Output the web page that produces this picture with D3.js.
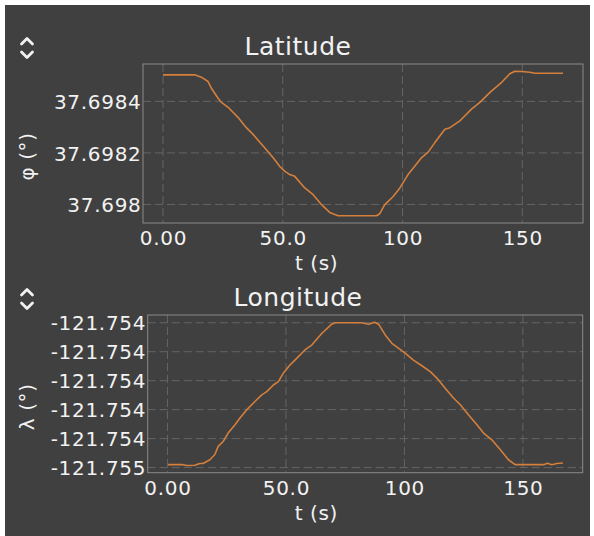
<!DOCTYPE html>
<html>
<head>
<meta charset="utf-8">
<script src="https://cdn.jsdelivr.net/npm/d3@7"></script>
<style>
  html, body { margin: 0; padding: 0; background: #ffffff; }
  svg { display: block; }
  text { font-family: "DejaVu Sans", sans-serif; fill: #f2f2f2; }
</style>
</head>
<body>
<svg id="chart" width="594" height="536"></svg>
<script>
// ---------- data ----------
const latTime = [0, 13.2, 16, 18.8, 20.2, 23, 24.4, 27.2, 31.3, 34.8, 37.6, 41.8, 46, 48.7, 50.8, 52.9, 55, 59.2, 62.7, 66.2, 69.6, 73.1, 89.1, 90.5, 92.6, 96.1, 98.9, 102.3, 105.1, 107.9, 110.7, 113.5, 117.7, 119.8, 123.9, 128.8, 132.3, 136.5, 141.4, 144.8, 146.9, 149.7, 153.2, 155.3, 167];
const latValues = [37.698503, 37.698503, 37.698494, 37.698477, 37.698451, 37.698412, 37.698396, 37.698377, 37.698338, 37.698298, 37.698272, 37.698227, 37.698181, 37.698148, 37.698129, 37.698116, 37.698109, 37.698064, 37.698038, 37.697999, 37.697969, 37.697956, 37.697956, 37.697964, 37.697999, 37.698031, 37.698064, 37.698116, 37.698148, 37.698181, 37.698203, 37.698240, 37.698292, 37.698298, 37.698324, 37.698370, 37.698396, 37.698435, 37.698474, 37.698507, 37.698517, 37.698516, 37.698513, 37.698509, 37.698509];

const lonTime = [0.25, 6.6, 8, 11.5, 13.7, 15, 17.9, 20, 21.4, 23.5, 25.6, 28.5, 30.6, 33.4, 36.9, 39.8, 41.9, 44.7, 46.8, 48.9, 51.7, 53.8, 58, 60.9, 65.1, 69.3, 70.7, 82, 84.9, 87.4, 89.1, 91.9, 94.7, 98.2, 100.3, 103.8, 108, 110.9, 113.7, 117.2, 120.7, 123.6, 127, 130.6, 133.4, 136.9, 140.4, 143.9, 146.7, 158.7, 160.4, 162.2, 164.3, 166.9];
const lonValues = [-121.754590, -121.754590, -121.754593, -121.754592, -121.754586, -121.754586, -121.754573, -121.754555, -121.754527, -121.754510, -121.754481, -121.754452, -121.754429, -121.754401, -121.754372, -121.754349, -121.754338, -121.754315, -121.754303, -121.754274, -121.754246, -121.754229, -121.754194, -121.754177, -121.754137, -121.754105, -121.754100, -121.754100, -121.754105, -121.754098, -121.754105, -121.754142, -121.754171, -121.754192, -121.754205, -121.754229, -121.754252, -121.754269, -121.754291, -121.754326, -121.754360, -121.754383, -121.754418, -121.754452, -121.754481, -121.754504, -121.754538, -121.754573, -121.754590, -121.754590, -121.754585, -121.754590, -121.754586, -121.754584];

const xTickValues = [0, 50, 100, 150];
const xTickLabels = ["0.00", "50.0", "100", "150"];

const latTickValues = [37.6980, 37.6982, 37.6984];
const latTickLabels = ["37.698", "37.6982", "37.6984"];

const lonTickValues = [-121.7546, -121.7545, -121.7544, -121.7543, -121.7542, -121.7541];
const lonTickLabels = ["-121.755", "-121.754", "-121.754", "-121.754", "-121.754", "-121.754"];

const titles = ["Latitude", "Longitude"];
const yLabels = ["\u03c6 (\u00b0)", "\u03bb (\u00b0)"];
const xLabel = "t (s)";

// ---------- layout ----------
const svg = d3.select("#chart");
svg.append("rect").attr("x", 5).attr("y", 5).attr("width", 585).attr("height", 531).attr("fill", "#404040");

const panels = [
  { title: titles[0], yLabel: yLabels[0], t: latTime, v: latValues, ticks: latTickValues, labels: latTickLabels,
    left: 143, right: 583, top: 64, bottom: 223 },
  { title: titles[1], yLabel: yLabels[1], t: lonTime, v: lonValues, ticks: lonTickValues, labels: lonTickLabels,
    left: 147.7, right: 582.7, top: 315, bottom: 472.7 }
];

function padded(arr) {
  const [a, b] = d3.extent(arr);
  const p = (b - a) * 0.05;
  return [a - p, b + p];
}

const tickFont = { size: "20px", ls: "0.7px" };

panels.forEach(p => {
  const g = svg.append("g");
  const x = d3.scaleLinear().domain(padded(p.t.concat([0]))).range([p.left, p.right]);
  const y = d3.scaleLinear().domain(padded(p.v)).range([p.bottom, p.top]);

  // grid
  g.append("g").selectAll("line").data(p.ticks).join("line")
    .attr("x1", p.left).attr("x2", p.right)
    .attr("y1", d => y(d)).attr("y2", d => y(d))
    .attr("stroke", "#646464").attr("stroke-width", 1).attr("stroke-dasharray", "8,4");
  g.append("g").selectAll("line").data(xTickValues).join("line")
    .attr("y1", p.top).attr("y2", p.bottom)
    .attr("x1", d => x(d)).attr("x2", d => x(d))
    .attr("stroke", "#646464").attr("stroke-width", 1).attr("stroke-dasharray", "8,4");

  // frame
  g.append("rect").attr("x", p.left).attr("y", p.top)
    .attr("width", p.right - p.left).attr("height", p.bottom - p.top)
    .attr("fill", "none").attr("stroke", "#8a8a8a").attr("stroke-width", 1);

  // axes via d3 axis generators
  const xAxis = d3.axisBottom(x).tickValues(xTickValues)
    .tickFormat((d, i) => xTickLabels[i]).tickSize(0).tickPadding(0);
  const xg = g.append("g").attr("transform", `translate(0,${p.bottom})`).call(xAxis);
  xg.select(".domain").remove();
  xg.selectAll("text").attr("dy", null).attr("y", 22)
    .style("font-size", tickFont.size).style("letter-spacing", tickFont.ls)
    .style("font-family", '"DejaVu Sans", sans-serif').attr("fill", "#f2f2f2");

  const yAxis = d3.axisLeft(y).tickValues(p.ticks)
    .tickFormat((d, i) => p.labels[i]).tickSize(0).tickPadding(1.5);
  const yg = g.append("g").attr("transform", `translate(${p.left},0)`).call(yAxis);
  yg.select(".domain").remove();
  yg.selectAll("text").attr("dy", "0.36em")
    .style("font-size", tickFont.size).style("letter-spacing", tickFont.ls)
    .style("font-family", '"DejaVu Sans", sans-serif').attr("fill", "#f2f2f2");

  // line
  const pts = p.t.map((t, i) => [t, p.v[i]]);
  const line = d3.line().x(d => x(d[0])).y(d => y(d[1]));
  g.append("path").datum(pts).attr("d", line)
    .attr("fill", "none").attr("stroke", "#d47f3c").attr("stroke-width", 1.6)
    .attr("stroke-linejoin", "round");

  // title
  g.append("text").attr("x", 298).attr("y", p.top - 9).attr("text-anchor", "middle")
    .style("font-size", "25px").style("letter-spacing", "0.5px").text(p.title);

  // x label
  g.append("text").attr("x", (50 + p.right) / 2).attr("y", p.bottom + 47).attr("text-anchor", "middle")
    .style("font-size", "20px").style("letter-spacing", "0.6px").text(xLabel);

  // y label
  const cy = p.top + (p.bottom - p.top + 26) / 2;
  g.append("text").attr("transform", `translate(34,${cy}) rotate(-90)`).attr("text-anchor", "middle")
    .style("font-size", "20px").style("letter-spacing", "0.6px").text(p.yLabel);

  // up/down icon
  const by = p.top - 9;
  const chev = d3.line();
  g.append("path").attr("d", chev([[21.5, by - 11], [27, by - 16.5], [32.5, by - 11]]))
    .attr("fill", "none").attr("stroke", "#f2f2f2").attr("stroke-width", 2.8)
    .attr("stroke-linecap", "round").attr("stroke-linejoin", "round");
  g.append("path").attr("d", chev([[21.5, by - 3], [27, by + 2.5], [32.5, by - 3]]))
    .attr("fill", "none").attr("stroke", "#f2f2f2").attr("stroke-width", 2.8)
    .attr("stroke-linecap", "round").attr("stroke-linejoin", "round");
});
</script>
</body>
</html>
